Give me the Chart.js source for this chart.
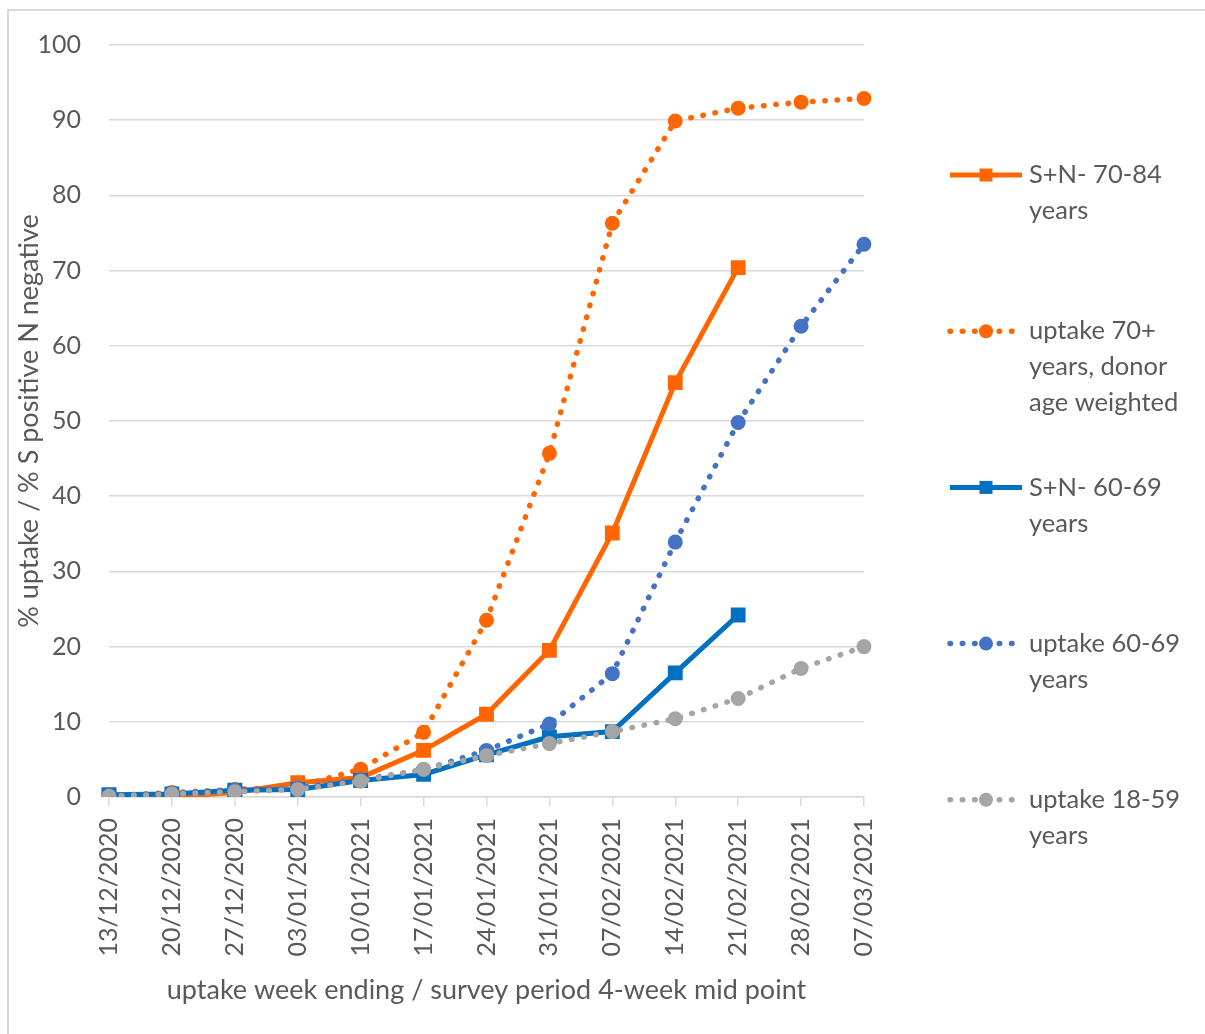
<!DOCTYPE html>
<html>
<head>
<meta charset="utf-8">
<script src="https://cdn.jsdelivr.net/npm/chart.js@4.4.1/dist/chart.umd.min.js"></script>
<style>
  html, body { margin: 0; padding: 0; background: #fff; }
  #wrap { position: relative; width: 1205px; height: 1034px; overflow: hidden; }
  #frame { position: absolute; left: 7px; top: 9px; width: 1300px; height: 1100px;
           border-left: 2px solid #d9d9d9; border-top: 2px solid #d9d9d9; }
  canvas { position: absolute; left: 0; top: 0; }
</style>
</head>
<body>
<div id="wrap">
  <div id="frame"></div>
  <canvas id="uptakeChart" width="1205" height="1034"></canvas>
</div>
<script>
// week labels
const weeks = ['13/12/2020', '20/12/2020', '27/12/2020', '03/01/2021', '10/01/2021', '17/01/2021',
               '24/01/2021', '31/01/2021', '07/02/2021', '14/02/2021', '21/02/2021', '28/02/2021', '07/03/2021'];

// series values (%)
const snNeg7084 = [0.0, 0.0, 0.6, 1.9, 2.6, 6.2, 11.0, 19.5, 35.1, 55.1, 70.4, null, null];
const uptake70 = [0.1, 0.6, 1.0, 1.4, 3.7, 8.6, 23.5, 45.7, 76.3, 89.9, 91.6, 92.4, 92.9];
const snNeg6069 = [0.3, 0.4, 0.9, 1.0, 2.2, 3.0, 5.6, 8.0, 8.7, 16.5, 24.2, null, null];
const uptake6069 = [0.2, 0.5, 0.9, 1.2, 2.3, 3.6, 6.2, 9.7, 16.4, 33.9, 49.8, 62.6, 73.5];
const uptake1859 = [0.1, 0.4, 0.7, 1.0, 2.1, 3.7, 5.5, 7.1, 8.7, 10.4, 13.1, 17.1, 20.0];

// legend text, one entry per line
const legendText = [
    ['S+N- 70-84', 'years'],
    ['uptake 70+', 'years, donor', 'age weighted'],
    ['S+N- 60-69', 'years'],
    ['uptake 60-69', 'years'],
    ['uptake 18-59', 'years']
];

const yTicks = [0, 10, 20, 30, 40, 50, 60, 70, 80, 90, 100];

const FONT = 'Lato';
const TEXT = '#595959';
const GRID = '#d9d9d9';
const DOTS = [0.5, 11.8];

function solid(label, data, color, order) {
    return {
        label, data, order,
        borderColor: color, backgroundColor: color,
        borderWidth: 5,
        pointStyle: 'rect', pointRadius: 10.5,
        pointBackgroundColor: color, pointBorderWidth: 0
    };
}

function dotted(label, data, color, order) {
    return {
        label, data, order,
        borderColor: color, backgroundColor: color,
        borderWidth: 5.5,
        borderDash: DOTS, borderCapStyle: 'round',
        pointStyle: 'circle', pointRadius: 7.5,
        pointBackgroundColor: color, pointBorderWidth: 0
    };
}

// legend drawn on the right, with wrapped labels like the original
const sideLegend = {
    id: 'sideLegend',
    afterDraw(chart) {
        const ctx = chart.ctx;
        const x0 = 950, x1 = 1022, tx = 1029;
        ctx.save();
        chart.data.datasets.forEach((ds, i) => {
            const y = 175 + i * 156.2;
            ctx.strokeStyle = ds.borderColor;
            ctx.lineWidth = ds.borderWidth;
            ctx.lineCap = ds.borderCapStyle || 'butt';
            ctx.setLineDash(ds.borderDash || []);
            ctx.beginPath();
            ctx.moveTo(x0, y);
            ctx.lineTo(x1, y);
            ctx.stroke();
            ctx.setLineDash([]);

            const cx = (x0 + x1) / 2;
            ctx.fillStyle = ds.pointBackgroundColor;
            ctx.beginPath();
            if (ds.pointStyle === 'rect') {
                ctx.rect(cx - 6.5, y - 6.5, 13, 13);
            } else {
                ctx.arc(cx, y, 7, 0, Math.PI * 2);
            }
            ctx.fill();

            ctx.fillStyle = TEXT;
            ctx.font = '25.5px ' + FONT;
            ctx.textBaseline = 'middle';
            ctx.textAlign = 'left';
            legendText[i].forEach((line, k) => ctx.fillText(line, tx, y + k * 36));
        });
        ctx.restore();
    }
};

const ctx = document.getElementById('uptakeChart');
new Chart(ctx, {
    type: 'line',
    data: {
        labels: weeks,
        datasets: [
            solid('S+N- 70-84 years', snNeg7084, '#ff6600', 5),
            dotted('uptake 70+ years, donor age weighted', uptake70, '#ff6600', 4),
            solid('S+N- 60-69 years', snNeg6069, '#0070c0', 3),
            dotted('uptake 60-69 years', uptake6069, '#4472c4', 2),
            dotted('uptake 18-59 years', uptake1859, '#a5a5a5', 1)
        ]
    },
    options: {
        responsive: false,
        animation: false,
        devicePixelRatio: 1,
        layout: { padding: { top: 45, right: 341, bottom: 0, left: 0 } },
        plugins: {
            legend: { display: false },
            tooltip: { enabled: false }
        },
        elements: { line: { tension: 0 } },
        scales: {
            x: {
                afterFit(scale) { scale.height = 237; },
                border: { color: GRID, width: 1.5 },
                grid: { drawOnChartArea: false, drawTicks: true, tickLength: 9, color: GRID, lineWidth: 1.5 },
                ticks: {
                    autoSkip: false, minRotation: 90, maxRotation: 90, padding: 12,
                    color: TEXT, font: { family: FONT, size: 25 }
                },
                title: {
                    display: true,
                    text: 'uptake week ending / survey period 4-week mid point',
                    color: TEXT, font: { family: FONT, size: 27 },
                    padding: { top: 0, bottom: 28 }
                }
            },
            y: {
                min: 0, max: 100,
                afterFit(scale) { scale.width = 109; },
                afterBuildTicks(scale) { scale.ticks = yTicks.map(v => ({ value: v })); },
                border: { display: false },
                grid: { color: GRID, lineWidth: 1.5, drawTicks: false },
                ticks: { padding: 28, color: TEXT, font: { family: FONT, size: 25 } },
                title: {
                    display: true,
                    text: '% uptake / % S positive N negative',
                    color: TEXT, font: { family: FONT, size: 27 },
                    padding: { top: 13, bottom: 0 }
                }
            }
        }
    },
    plugins: [sideLegend]
});
</script>
</body>
</html>
